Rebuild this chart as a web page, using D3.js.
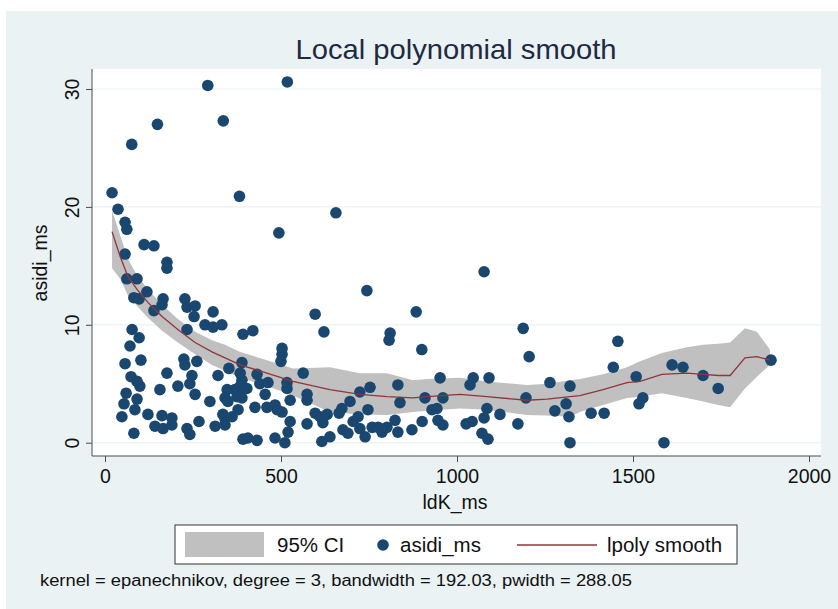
<!DOCTYPE html>
<html>
<head>
<meta charset="utf-8">
<script src="https://cdn.jsdelivr.net/npm/d3@7"></script>
<style>
  body { margin: 0; background: #fff; }
  svg text { font-family: "Liberation Sans", Arial, sans-serif; }
</style>
</head>
<body>
<div id="chart"></div>
<script>
// scatter points: ldK_ms (x) and asidi_ms (y)
var ldK = [
  292, 518, 149, 76, 336, 382, 494, 656, 744, 1077, 884, 597, 622, 810, 807, 900, 1188, 1205, 1457, 1444,
  20, 37, 57, 62, 111, 139, 57, 176, 176, 62, 91, 119, 82, 97, 165, 162, 139, 227, 233, 256,
  253, 307, 284, 307, 332, 233, 77, 97, 71, 57, 102, 224, 227, 261, 176, 74, 91, 99, 247, 241,
  207, 321, 156, 256, 60, 91, 298, 54, 85, 48, 122, 162, 190, 142, 165, 190, 82, 233, 241, 267,
  313, 335, 352, 389, 384, 389, 384, 347, 341, 349, 369, 392, 403, 375, 389, 341, 341, 361, 378,
  392, 420, 503, 503, 500, 432, 440, 463, 455, 517, 517, 563, 574, 574, 526, 426, 460, 483, 489, 503,
  526, 520, 511, 483, 392, 406, 432, 574, 597, 611, 631, 619, 616, 639, 665, 673, 676, 690, 696,
  724, 753, 832, 838, 705, 719, 724, 739, 747, 759, 776, 787, 801, 824, 832, 872, 901, 909, 929, 943,
  946, 960, 952, 960, 1037, 1046, 1026, 1043,
  1091, 1085, 1077, 1071, 1088, 1122, 1173, 1196, 1264, 1321, 1278, 1310, 1318, 1321, 1381,
  1418, 1509, 1528, 1517, 1588, 1611, 1642, 1699, 1742, 1892
]
var asidi = [
  30.3, 30.6, 27.0, 25.3, 27.3, 20.9, 17.8, 19.5, 12.9, 14.5, 11.1, 10.9, 9.4, 9.3, 8.7, 7.9, 9.7, 7.3, 8.6, 6.4,
  21.2, 19.8, 18.7, 18.1, 16.8, 16.7, 16.0, 15.3, 14.8, 13.9, 13.9, 12.8, 12.3, 12.2, 12.2, 11.7, 11.2, 12.2, 11.5, 11.6,
  10.7, 11.1, 10.0, 9.8, 10.0, 9.6, 9.6, 8.9, 8.2, 6.7, 7.0, 7.1, 6.6, 6.9, 5.9, 5.6, 5.2, 4.8, 5.7, 5.0,
  4.8, 5.7, 4.5, 4.1, 4.2, 3.7, 3.5, 3.3, 2.8, 2.2, 2.4, 2.3, 2.1, 1.4, 1.2, 1.5, 0.8, 1.2, 0.7, 1.8,
  1.4, 2.4, 6.3, 6.8, 5.9, 5.3, 4.8, 4.5, 3.8, 3.5, 4.5, 4.5, 4.6, 3.9, 3.8, 2.0, 1.5, 2.2, 2.8,
  9.2, 9.5, 8.0, 7.5, 6.9, 5.8, 5.0, 5.1, 4.1, 5.1, 4.6, 5.9, 4.1, 3.6, 3.6, 3.0, 3.0, 3.2, 2.8, 2.6,
  1.8, 0.9, 0.0, 0.4, 0.3, 0.4, 0.2, 1.6, 2.5, 2.2, 2.4, 1.7, 0.1, 0.5, 2.5, 2.9, 1.1, 0.8, 3.5,
  4.3, 4.7, 4.9, 3.4, 1.8, 2.2, 1.2, 0.5, 2.8, 1.3, 1.3, 0.9, 1.3, 1.9, 0.9, 1.1, 1.8, 3.8, 2.8, 2.9,
  1.9, 1.5, 5.5, 3.8, 4.9, 5.5, 1.6, 1.8,
  5.5, 2.9, 2.1, 0.8, 0.3, 2.4, 1.6, 3.8, 5.1, 4.8, 2.7, 3.3, 2.2, 0.0, 2.5,
  2.5, 5.6, 3.8, 3.3, 0.0, 6.6, 6.4, 5.7, 4.6, 7.0
]

// lpoly smooth with 95% CI
var gridX = [20, 43, 65, 91, 122, 162, 207, 256, 304, 341, 384, 460, 534, 639, 724, 801, 875, 915, 1009, 1085,
             1199, 1256, 1321, 1349, 1415, 1483, 1520, 1582, 1653, 1699, 1742, 1776, 1818, 1852, 1889]
var smooth = [17.9, 15.8, 14.1, 13.0, 11.9, 10.7, 9.6, 8.5, 7.7, 7.2, 6.6, 5.9, 5.2, 4.5, 4.1, 3.9, 3.8, 3.9, 4.1, 3.9,
              3.6, 3.7, 3.9, 4.0, 4.5, 5.1, 5.2, 5.8, 5.9, 5.8, 5.7, 5.7, 7.2, 7.3, 7.0]
var ciHi = [19.7, 17.6, 15.6, 14.2, 13.0, 11.7, 10.5, 9.4, 8.7, 8.3, 7.7, 7.0, 6.3, 6.4, 5.9, 5.9, 5.3, 5.4, 5.5, 5.2,
            4.9, 5.0, 5.3, 5.4, 5.8, 6.4, 6.9, 7.6, 8.1, 8.3, 8.4, 8.5, 9.7, 9.4, 7.9]
var ciLo = [14.8, 13.9, 12.5, 11.6, 10.6, 9.5, 8.5, 7.5, 6.6, 6.1, 5.5, 4.8, 4.0, 2.6, 2.4, 2.35, 2.6, 2.7, 2.9, 2.8,
            2.35, 2.3, 2.2, 2.6, 3.2, 3.8, 3.9, 4.2, 3.8, 3.5, 3.2, 3.0, 4.6, 5.6, 6.6]

var xTicks = [0, 500, 1000, 1500, 2000]
var yTicks = [0, 10, 20, 30]

var W = 838, H = 609
var svg = d3.select('#chart').append('svg').attr('width', W).attr('height', H)

svg.append('rect').attr('x', 6).attr('y', 11).attr('width', W - 6).attr('height', H - 11).attr('fill', '#eaf2f3')

var plot = {left: 92, right: 821, top: 69, bottom: 456}
svg.append('rect')
    .attr('x', plot.left).attr('y', plot.top)
    .attr('width', plot.right - plot.left).attr('height', plot.bottom - plot.top)
    .attr('fill', '#fff')

var x = d3.scaleLinear().domain([0, 2000]).range([105, 809])
var y = d3.scaleLinear().domain([0, 30]).range([442.7, 89])

// grid
svg.append('g').selectAll('line').data(yTicks).enter().append('line')
    .attr('x1', plot.left).attr('x2', plot.right)
    .attr('y1', function(d) {return y(d)}).attr('y2', function(d) {return y(d)})
    .attr('stroke', '#eaf2f3').attr('stroke-width', 1.2)

var ci = gridX.map(function(d, i) {return {x: d, lo: ciLo[i], hi: ciHi[i], s: smooth[i]}})

svg.append('path')
    .datum(ci)
    .attr('fill', '#c0c0c0')
    .attr('d', d3.area()
      .x(function(d) {return x(d.x)})
      .y0(function(d) {return y(d.lo)})
      .y1(function(d) {return y(d.hi)}))

svg.append('g').selectAll('circle')
    .data(ldK.map(function(d, i) {return [d, asidi[i]]}))
  .enter().append('circle')
    .attr('cx', function(d) {return x(d[0])})
    .attr('cy', function(d) {return y(d[1])})
    .attr('r', 5.8)
    .attr('fill', '#1a476f')

svg.append('path')
    .datum(ci)
    .attr('fill', 'none')
    .attr('stroke', '#90353b')
    .attr('stroke-width', 1.3)
    .attr('d', d3.line()
      .x(function(d) {return x(d.x)})
      .y(function(d) {return y(d.s)}))

// axes
var axisColor = '#4d4d4d'
var gx = svg.append('g')
    .attr('transform', 'translate(0,' + plot.bottom + ')')
    .call(d3.axisBottom(x).tickValues(xTicks).tickFormat(d3.format('d')).tickSize(6).tickSizeOuter(0))
gx.select('.domain').remove()
gx.selectAll('line').attr('stroke', axisColor)
gx.selectAll('text').attr('y', 13).attr('font-size', 19.5).attr('fill', '#111')

var gy = svg.append('g')
    .attr('transform', 'translate(' + plot.left + ',0)')
    .call(d3.axisLeft(y).tickValues(yTicks).tickSize(6).tickSizeOuter(0))
gy.select('.domain').remove()
gy.selectAll('line').attr('stroke', axisColor)
gy.selectAll('text')
    .attr('transform', 'rotate(-90)')
    .attr('x', 0).attr('y', -13).attr('dy', 0)
    .attr('text-anchor', 'middle')
    .attr('font-size', 19.5).attr('fill', '#111')

svg.append('line').attr('x1', plot.left).attr('x2', plot.left)
    .attr('y1', plot.top).attr('y2', plot.bottom).attr('stroke', axisColor)
svg.append('line').attr('x1', plot.left).attr('x2', plot.right)
    .attr('y1', plot.bottom).attr('y2', plot.bottom).attr('stroke', axisColor)

// titles
svg.append('text').attr('x', 456).attr('y', 59).attr('text-anchor', 'middle')
    .attr('font-size', 28).attr('fill', '#1e2a44')
    .attr('textLength', 321).attr('lengthAdjust', 'spacingAndGlyphs')
    .text('Local polynomial smooth')
svg.append('text').attr('x', 455).attr('y', 509).attr('text-anchor', 'middle')
    .attr('font-size', 19.5).attr('fill', '#111').text('ldK_ms')
svg.append('text').attr('transform', 'translate(47,263) rotate(-90)').attr('text-anchor', 'middle')
    .attr('font-size', 19.5).attr('fill', '#111').text('asidi_ms')

// legend
var lg = svg.append('g')
lg.append('rect').attr('x', 175).attr('y', 525).attr('width', 562).attr('height', 39)
    .attr('fill', '#fff').attr('stroke', '#333')
lg.append('rect').attr('x', 185).attr('y', 532).attr('width', 79).attr('height', 25).attr('fill', '#c0c0c0')
lg.append('text').attr('x', 277).attr('y', 552).attr('font-size', 20.5).attr('fill', '#111').text('95% CI')
lg.append('circle').attr('cx', 383).attr('cy', 545).attr('r', 5.8).attr('fill', '#1a476f')
lg.append('text').attr('x', 400).attr('y', 552).attr('font-size', 20.5).attr('fill', '#111').text('asidi_ms')
lg.append('line').attr('x1', 517).attr('x2', 597).attr('y1', 545).attr('y2', 545)
    .attr('stroke', '#90353b').attr('stroke-width', 1.3)
lg.append('text').attr('x', 607).attr('y', 552).attr('font-size', 20.5).attr('fill', '#111').text('lpoly smooth')

svg.append('text').attr('x', 40).attr('y', 586).attr('font-size', 16).attr('fill', '#111')
    .attr('textLength', 592).attr('lengthAdjust', 'spacingAndGlyphs')
    .text('kernel = epanechnikov, degree = 3, bandwidth = 192.03, pwidth = 288.05')
</script>
</body>
</html>
